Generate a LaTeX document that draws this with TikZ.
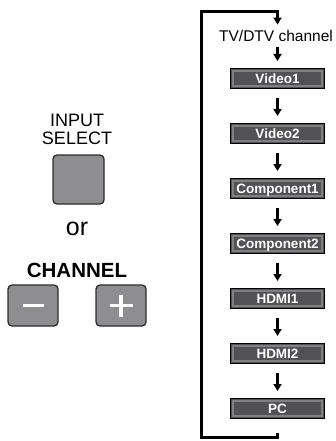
\documentclass[tikz,border=0pt]{standalone}
\usepackage{fontspec}
\setmainfont{Liberation Sans}
\usetikzlibrary{positioning,arrows.meta}

\definecolor{boxgray}{RGB}{82,82,84}
\definecolor{boxedge}{RGB}{128,128,130}
\definecolor{keygray}{RGB}{142,142,144}
\definecolor{keyline}{RGB}{45,45,45}

\tikzset{
  srcbox/.style={draw=black, line width=1pt, fill=boxgray, minimum width=94pt,
    minimum height=20pt, inner sep=0pt, text=white, text height=9.7pt, text depth=0pt,
    font=\fontsize{13.5}{15}\selectfont\bfseries,
    path picture={\draw[boxedge, line width=1.8pt]
      ([xshift=2.4pt,yshift=-2.4pt]path picture bounding box.north west) rectangle
      ([xshift=-2.4pt,yshift=2.4pt]path picture bounding box.south east);}},
  flow/.style={line width=2.4pt, -{Triangle[width=8pt,length=7pt]}},
  key/.style={draw=keyline, line width=1.3pt, fill=keygray, rounded corners=4pt},
  keysign/.style={white, line width=3.5pt}
}

\begin{document}
\begin{tikzpicture}[x=1pt, y=-1pt]
\useasboundingbox (0,0) rectangle (336,441);

% buttons on the left
\node[align=center, font=\fontsize{18}{18.5}\selectfont] (inlabel) at (77,129.5) {INPUT\\SELECT};
\node[key, minimum width=51pt, minimum height=49pt] (inkey) at (78.5,179.5) {};
\node[anchor=base, font=\fontsize{25}{28}\selectfont] (orword) at (77,235) {or};
\node[anchor=base, font=\fontsize{20.5}{22}\selectfont\bfseries] (chlabel) at (77,277) {CHANNEL};
\node[key, minimum width=50pt, minimum height=41pt] (minus) at (33,305.5) {};
\node[key, minimum width=50pt, minimum height=41pt] (plus) at (121,305.5) {};
\draw[keysign] ([xshift=-10.5pt]minus.center) -- ([xshift=10.5pt]minus.center);
\draw[keysign] ([xshift=-11.5pt]plus.center) -- ([xshift=11.5pt]plus.center);
\draw[keysign] ([yshift=-11pt]plus.center) -- ([yshift=11pt]plus.center);

% input list
\node[anchor=base, inner sep=0pt, text depth=0pt, font=\fontsize{15.5}{17}\selectfont] (tv) at (276,42) {TV/DTV channel};
\node[srcbox] (v1) at (277.5,78.5) {Video1};
\node[srcbox, below=34pt of v1] (v2) {Video2};
\node[srcbox, below=34pt of v2] (c1) {Component1};
\node[srcbox, below=34pt of c1] (c2) {Component2};
\node[srcbox, below=34pt of c2] (h1) {HDMI1};
\node[srcbox, below=34pt of h1] (h2) {HDMI2};
\node[srcbox, below=34pt of h2] (pc) {PC};

\draw[flow, shorten <=5pt, shorten >=7pt] (tv.south -| v1) -- (v1);
\foreach \a/\b in {v1/v2, v2/c1, c1/c2, c2/h1, h1/h2, h2/pc}
  \draw[flow, shorten <=9pt, shorten >=7pt] (\a) -- (\b);

\coordinate (lowL) at (201,437.5);
\coordinate (topL) at (201,11.5);
\coordinate (tvtop) at ([yshift=6pt]tv.north);
\draw[flow, line width=3pt, shorten <=14pt] (pc) |- (lowL) -- (topL) -| (tvtop -| v1);

\end{tikzpicture}
\end{document}
